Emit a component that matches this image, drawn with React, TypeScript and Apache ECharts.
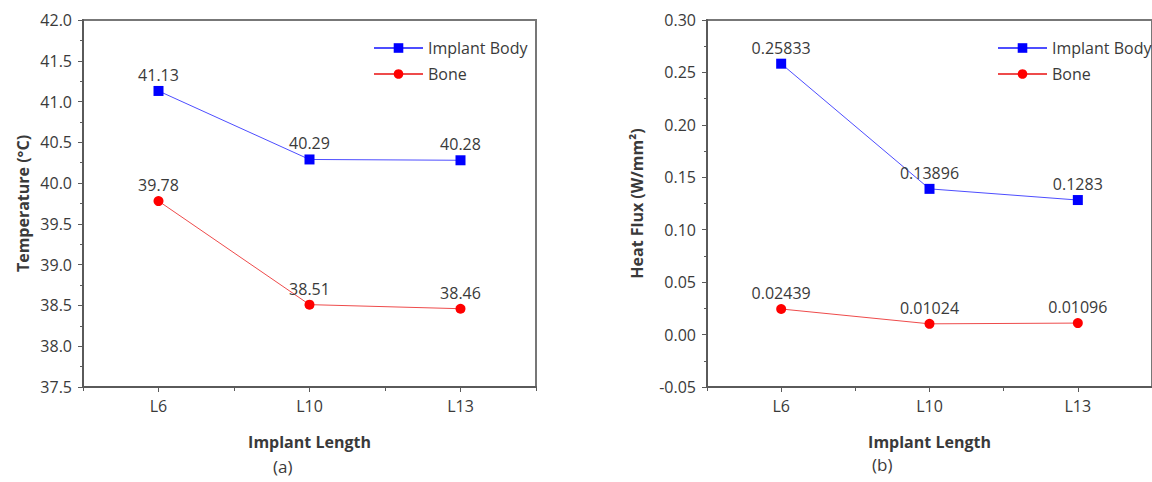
import React, { useEffect, useRef } from "react";
import * as echarts from "echarts";

const categories = ["L6", "L10", "L13"];
const tempImplant = [41.13, 40.29, 40.28];
const tempBone = [39.78, 38.51, 38.46];
const fluxImplant = [0.25833, 0.13896, 0.1283];
const fluxBone = [0.02439, 0.01024, 0.01096];
const seriesNames = ["Implant Body", "Bone"];

const FONT = "Open Sans";
const TXT = "#3a3a3a";
const AXIS = "#5a5a5a";

export default function App() {
  const ref = useRef<HTMLDivElement>(null);
  useEffect(() => {
    if (!ref.current) return;
    const chart = echarts.init(ref.current, undefined, { renderer: "svg" });

    const grids = [
      { left: 83, top: 20, width: 453, height: 367 },
      { left: 707, top: 20, width: 452, height: 367 },
    ];

    const mainX = (gi: number) => ({
      type: "category",
      gridIndex: gi,
      data: categories,
      boundaryGap: true,
      position: "bottom",
      name: "Implant Length",
      nameLocation: "middle",
      nameGap: 47,
      nameTextStyle: { fontFamily: FONT, fontWeight: "bold", fontSize: 16, color: TXT },
      axisLine: { show: true, onZero: false, lineStyle: { color: AXIS, width: 2 } },
      axisTick: { show: true, alignWithLabel: true, length: 5, lineStyle: { color: AXIS, width: 1 } },
      axisLabel: { margin: 11, fontFamily: FONT, fontSize: 16, color: TXT },
      splitLine: { show: false },
    });
    const minorX = (gi: number) => ({
      type: "category",
      gridIndex: gi,
      data: categories,
      boundaryGap: true,
      position: "bottom",
      axisLine: { show: false, onZero: false },
      axisTick: { show: true, length: 4, lineStyle: { color: AXIS, width: 1 } },
      axisLabel: { show: false },
      splitLine: { show: false },
    });

    const yAxisBase = (gi: number, min: number, max: number, interval: number, digits: number, name: string, gap: number) => ({
      type: "value",
      gridIndex: gi,
      min,
      max,
      interval,
      name,
      nameLocation: "middle",
      nameGap: gap,
      nameTextStyle: { fontFamily: FONT, fontWeight: "bold", fontSize: 16, color: TXT },
      axisLine: { show: true, onZero: false, lineStyle: { color: AXIS, width: 2 } },
      axisTick: { show: true, length: 5, lineStyle: { color: AXIS, width: 1 } },
      minorTick: { show: true, splitNumber: 2, length: 3, lineStyle: { color: AXIS, width: 1 } },
      axisLabel: {
        margin: 11,
        fontFamily: FONT,
        fontSize: 16,
        color: TXT,
        formatter: (v: number) => v.toFixed(digits),
      },
      splitLine: { show: false },
    });

    const lineSeries = (name: string, data: number[], xi: number, yi: number, color: string, lineColor: string, symbol: string) => ({
      type: "line",
      name,
      xAxisIndex: xi,
      yAxisIndex: yi,
      data,
      symbol,
      symbolSize: 10,
      itemStyle: { color },
      lineStyle: { color: lineColor, width: 1 },
      label: {
        show: true,
        position: "top",
        distance: 3,
        fontFamily: FONT,
        fontSize: 16,
        color: TXT,
        formatter: (p: any) => String(p.value),
      },
    });

    const legendBase = (left: number) => ({
      orient: "vertical",
      left,
      top: 35,
      itemWidth: 49,
      itemHeight: 12,
      itemGap: 10,
      data: seriesNames,
      selectedMode: false,
      textStyle: { fontFamily: FONT, fontSize: 16, color: TXT, padding: [0, 0, 0, 0] },
    });

    chart.setOption({
      animation: false,
      backgroundColor: "#ffffff",
      grid: grids.map((g) => ({ ...g, show: true, borderColor: "#777", borderWidth: 2, backgroundColor: "transparent" })),
      legend: [legendBase(368), legendBase(992)],
      xAxis: [mainX(0), minorX(0), mainX(1), minorX(1)],
      yAxis: [
        yAxisBase(0, 37.5, 42, 0.5, 1, "Temperature (°C)", 52),
        yAxisBase(1, -0.05, 0.3, 0.05, 2, "Heat Flux (W/mm²)", 62),
      ],
      series: [
        lineSeries(seriesNames[0], tempImplant, 0, 0, "#0000ff", "#4d4dff", "rect"),
        lineSeries(seriesNames[1], tempBone, 0, 0, "#ff0000", "#ee4b4b", "circle"),
        lineSeries(seriesNames[0], fluxImplant, 2, 1, "#0000ff", "#4d4dff", "rect"),
        lineSeries(seriesNames[1], fluxBone, 2, 1, "#ff0000", "#ee4b4b", "circle"),
      ],
      graphic: [
        { type: "text", left: 273, top: 458, style: { text: "(a)", fontFamily: FONT, fontSize: 17, fill: TXT } },
        { type: "text", left: 872, top: 456, style: { text: "(b)", fontFamily: FONT, fontSize: 17, fill: TXT } },
      ],
    });

    return () => chart.dispose();
  }, []);

  return (
    <div
      ref={ref}
      style={{ position: "fixed", left: 0, top: 0, width: 1152, height: 482, background: "#fff" }}
    />
  );
}
